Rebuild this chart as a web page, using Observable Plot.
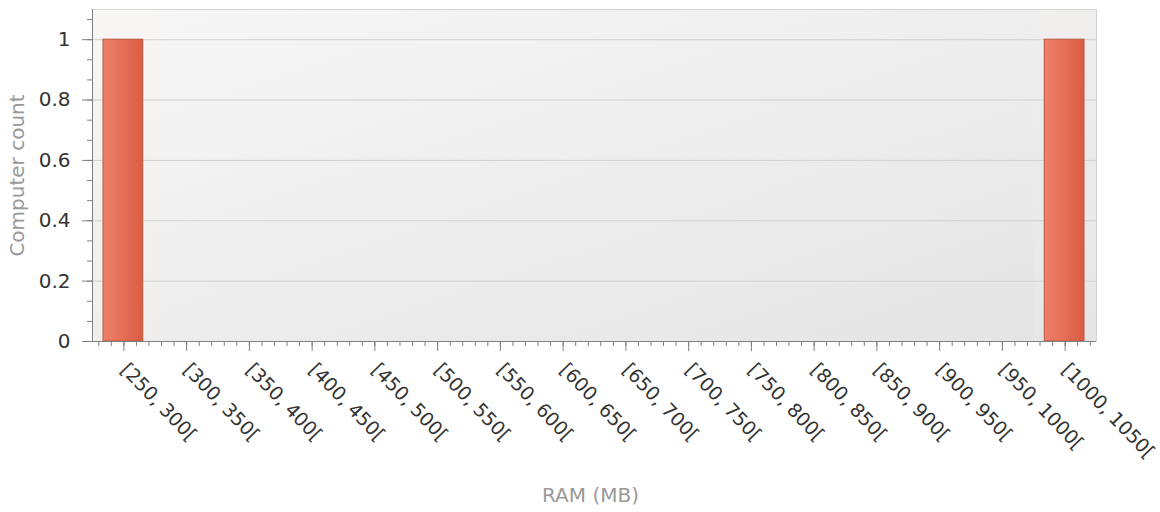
<!DOCTYPE html>
<html><head><meta charset="utf-8">
<script src="https://cdn.jsdelivr.net/npm/d3@7"></script>
<script src="https://cdn.jsdelivr.net/npm/@observablehq/plot@0.6"></script>
<style>html,body{margin:0;padding:0;background:#fff} svg{display:block}</style>
</head><body><div id="chart"></div>
<script>
const binStart = [250, 300, 350, 400, 450, 500, 550, 600, 650, 700, 750, 800, 850, 900, 950, 1000];
const binEnd   = [300, 350, 400, 450, 500, 550, 600, 650, 700, 750, 800, 850, 900, 950, 1000, 1050];
const binLabels = ["[250, 300[", "[300, 350[", "[350, 400[", "[400, 450[", "[450, 500[", "[500, 550[",
  "[550, 600[", "[600, 650[", "[650, 700[", "[700, 750[", "[750, 800[", "[800, 850[", "[850, 900[",
  "[900, 950[", "[950, 1000[", "[1000, 1050["];
const counts = [1, 0, 0, 0, 0, 0, 0, 0, 0, 0, 0, 0, 0, 0, 0, 1];
const yTicks = [0, 0.2, 0.4, 0.6, 0.8, 1];
const yTickLabels = ["0", "0.2", "0.4", "0.6", "0.8", "1"];
const xTitle = "RAM (MB)";
const yTitle = "Computer count";

const bins = binStart.map((s, i) => ({start: s, end: binEnd[i], mid: (s + binEnd[i]) / 2, label: binLabels[i], count: counts[i]}));
const xMinor = d3.range(255, 1050, 10);
const yMinor = d3.range(17).map(k => k / 15);

const plot = Plot.plot({
  width: 1160, height: 512,
  marginLeft: 92, marginRight: 64, marginTop: 9, marginBottom: 171,
  style: {fontFamily: "DejaVu Sans", fontSize: "20px", color: "#333", background: "#fff"},
  x: {domain: [250, 1050], axis: null, label: null},
  y: {domain: [0, 1.1], axis: null, label: null},
  marks: [
    Plot.frame({fill: "url(#bgGrad)", stroke: "#d2d2d2"}),
    Plot.rectY(bins, {filter: d => d.count > 0, x1: "start", x2: "end", y1: 0, y2: 1.1,
      fill: "#fbf5e3", fillOpacity: 0.12}),
    Plot.gridY(yTicks, {stroke: "#d0d0d0", strokeOpacity: 1}),
    Plot.rectY(bins, {filter: d => d.count > 0, x1: "start", x2: "end", y: "count",
      insetLeft: 11, insetRight: 12, fill: "url(#barGrad)", stroke: "#bd5640", strokeWidth: 1}),
    Plot.ruleX([250], {stroke: "#808080"}),
    Plot.ruleY([0], {stroke: "#808080"}),
    Plot.axisY(yMinor, {tickSize: 5, tickFormat: () => "", stroke: "#808080", strokeOpacity: 1, label: null}),
    Plot.axisY(yTicks, {tickSize: 10, tickPadding: 12, tickFormat: d => yTickLabels[yTicks.indexOf(d)],
      fontSize: 20, fill: "#333", stroke: "#808080", strokeOpacity: 1, label: null}),
    Plot.axisX(xMinor, {tickSize: 5, tickFormat: () => "", stroke: "#808080", strokeOpacity: 1, label: null}),
    Plot.axisX(bins.map(d => d.mid), {tickSize: 10, tickFormat: () => "", stroke: "#808080", strokeOpacity: 1, label: null}),
    Plot.text(bins, {x: "mid", text: "label", frameAnchor: "bottom", rotate: 46, textAnchor: "start",
      lineAnchor: "middle", dx: 0, dy: 25, fontSize: 19, fill: "#333"}),
    Plot.text([xTitle], {frameAnchor: "bottom", textAnchor: "middle", lineAnchor: "middle", dy: 154, dx: -4, fill: "#999", fontSize: 20}),
    Plot.text([yTitle], {frameAnchor: "left", textAnchor: "middle", lineAnchor: "middle", dx: -75, rotate: -90, fill: "#999", fontSize: 20})
  ]
});

const svg = d3.select(plot);
const defs = svg.insert("defs", ":first-child");
const bg = defs.append("linearGradient").attr("id", "bgGrad").attr("x1", 0).attr("y1", 0).attr("x2", 1).attr("y2", 1);
bg.append("stop").attr("offset", "0%").attr("stop-color", "#f7f7f7");
bg.append("stop").attr("offset", "100%").attr("stop-color", "#e4e4e4");
const bar = defs.append("linearGradient").attr("id", "barGrad").attr("x1", 0).attr("y1", 0).attr("x2", 1).attr("y2", 0);
bar.append("stop").attr("offset", "0%").attr("stop-color", "#f0806b");
bar.append("stop").attr("offset", "100%").attr("stop-color", "#d95d42");
document.getElementById("chart").appendChild(plot);
</script>
</body></html>
